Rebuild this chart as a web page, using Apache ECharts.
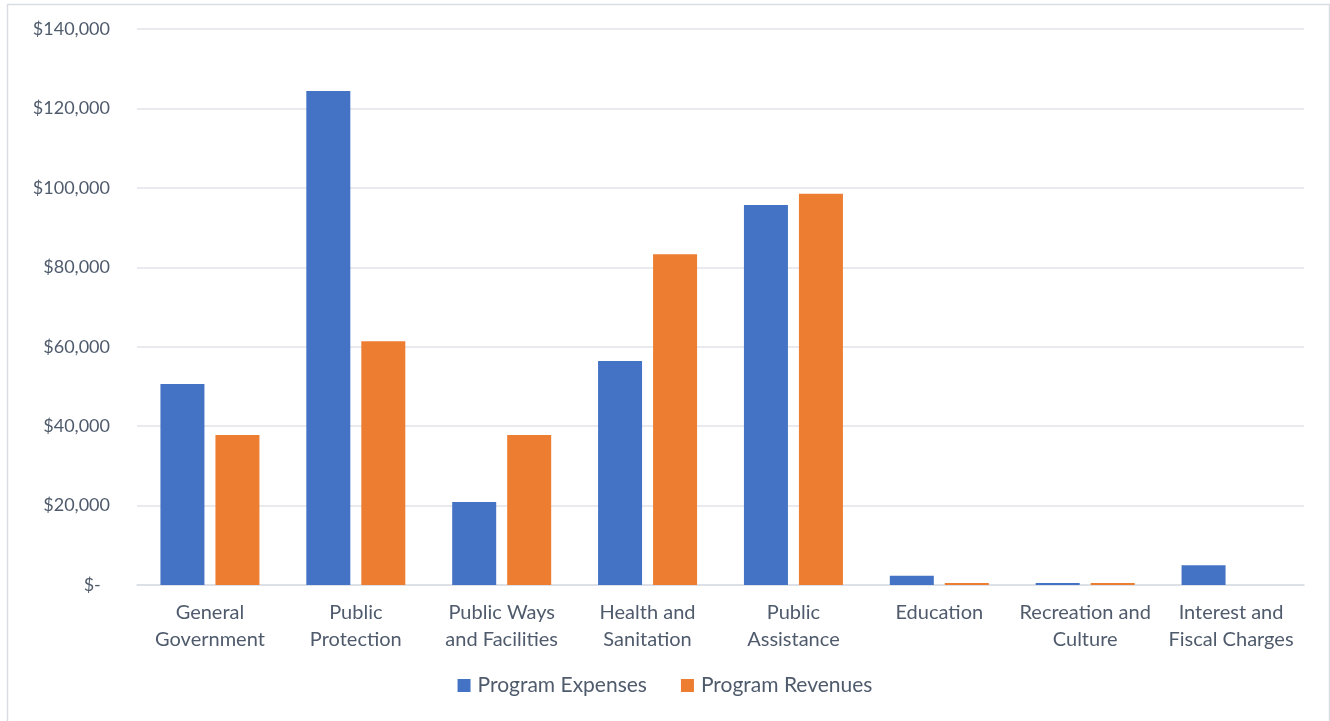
<!DOCTYPE html>
<html>
<head>
<meta charset="utf-8">
<script src="https://cdn.jsdelivr.net/npm/echarts@6/dist/echarts.min.js"></script>
<style>
  html, body { margin: 0; padding: 0; background: #ffffff; }
  #chart { width: 1330px; height: 721px; }
</style>
</head>
<body>
<div id="chart"></div>
<script>
// Program functions shown along the x-axis
const categories = [
  'General\nGovernment',
  'Public\nProtection',
  'Public Ways\nand Facilities',
  'Health and\nSanitation',
  'Public\nAssistance',
  'Education',
  'Recreation and\nCulture',
  'Interest and\nFiscal Charges'
];

// Amounts in dollars for each function
const programExpenses = [50600, 124400, 20900, 56400, 95700, 2300, 500, 5000];
const programRevenues = [37800, 61400, 37800, 83300, 98500, 500, 500, 0];

const seriesNames = ['Program Expenses', 'Program Revenues'];

const textColor = '#4f5b6c';
const fontFamily = 'Lato, "Open Sans", sans-serif';

const chart = echarts.init(document.getElementById('chart'));

function dollarLabel(v) {
  if (v === 0) return '$-  ';
  return '$' + v.toLocaleString('en-US');
}

chart.setOption({
  animation: false,
  textStyle: { fontFamily: fontFamily },
  graphic: [{
    type: 'rect',
    left: 5, top: 2,
    shape: { width: 1322, height: 722 },
    style: { fill: 'none', stroke: '#d9dde3', lineWidth: 1.5 },
    silent: true
  }],
  grid: { left: 137, right: 26, top: 29, bottom: 136 },
  legend: {
    data: seriesNames,
    bottom: 20,
    left: 'center',
    itemWidth: 13,
    itemHeight: 13,
    itemGap: 34,
    icon: 'rect',
    textStyle: {
      color: textColor,
      fontSize: 21,
      fontFamily: fontFamily,
      padding: [0, 0, 0, 2]
    }
  },
  xAxis: {
    type: 'category',
    data: categories,
    axisTick: { show: false },
    axisLine: { lineStyle: { color: '#d9dde3', width: 1.5 } },
    axisLabel: {
      color: textColor,
      fontSize: 20,
      lineHeight: 27,
      margin: 14,
      interval: 0
    }
  },
  yAxis: {
    type: 'value',
    min: 0,
    max: 140000,
    interval: 20000,
    axisLine: { show: false },
    axisTick: { show: false },
    splitLine: { lineStyle: { color: '#e0e3e8', width: 1.5 } },
    axisLabel: {
      color: textColor,
      fontSize: 18,
      margin: 27,
      formatter: dollarLabel
    }
  },
  series: [
    {
      name: seriesNames[0],
      type: 'bar',
      data: programExpenses,
      barWidth: 44,
      barGap: '25%',
      itemStyle: { color: '#4472c4' }
    },
    {
      name: seriesNames[1],
      type: 'bar',
      data: programRevenues,
      barWidth: 44,
      barGap: '25%',
      itemStyle: { color: '#ed7d31' }
    }
  ]
});
</script>
</body>
</html>
